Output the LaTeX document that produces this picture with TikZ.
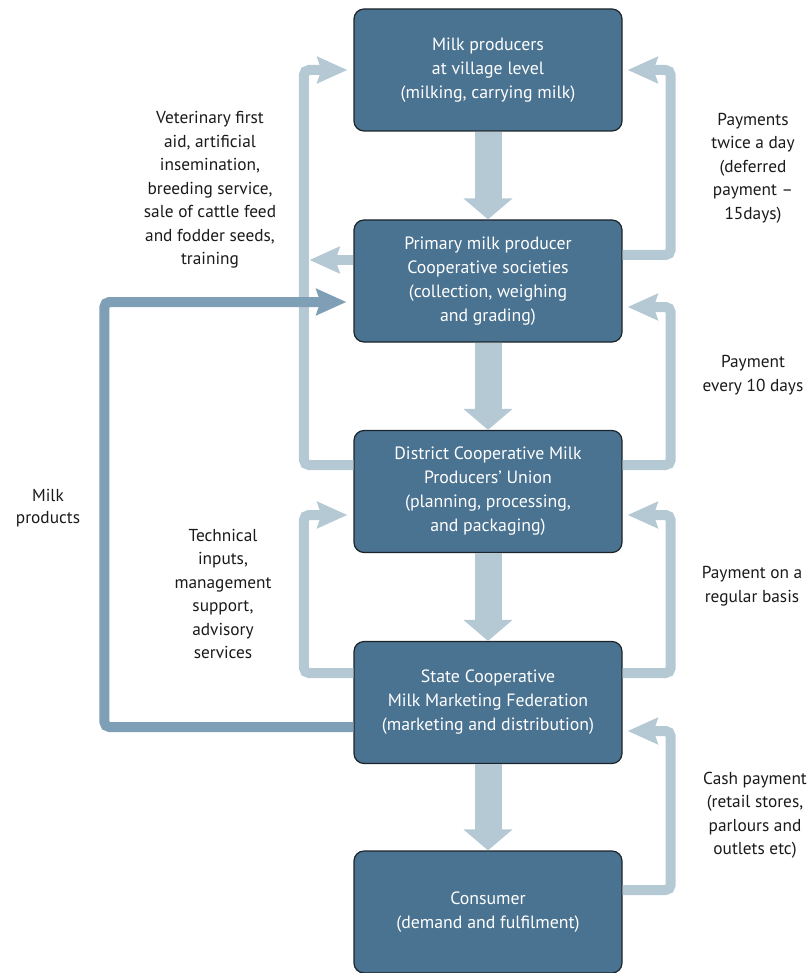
\documentclass[tikz,border=0pt]{standalone}
\usepackage{fontspec}
\setmainfont{PT Sans}
\usetikzlibrary{arrows.meta}

\definecolor{boxfill}{HTML}{4A7291}
\definecolor{boxline}{HTML}{1C242B}
\definecolor{flowlight}{HTML}{B5C9D5}
\definecolor{flowmid}{HTML}{7F9FB6}
\definecolor{labeltext}{HTML}{1A1A1A}

\tikzset{
  stage/.style={draw=boxline, line width=1.2pt, fill=boxfill, rounded corners=10pt,
    minimum width=268pt, minimum height=122pt, inner sep=0pt,
    text=white, align=center, font=\fontsize{17.8}{24}\selectfont},
  note/.style={text=labeltext, align=center, inner sep=0pt,
    font=\fontsize{17.3}{23.5}\selectfont},
  mainflow/.style={draw=flowlight, line width=27pt,
    -{Triangle[width=48pt,length=21pt]}},
  backflow/.style={draw=flowlight, line width=10pt, rounded corners=5pt,
    -{Stealth[width=26pt,length=30pt,inset=4pt]}, shorten >=6pt},
  productflow/.style={draw=flowmid, line width=10pt, rounded corners=5pt,
    -{Stealth[width=26pt,length=30pt,inset=4pt]}, shorten >=7pt}
}

\begin{document}
\begin{tikzpicture}[x=1pt, y=-1pt]
  \useasboundingbox (0,0) rectangle (807,973);

  % chain of stages
  \node[stage] (prod)  at (488,70)    {Milk producers\\at village level\\(milking, carrying milk)};
  \node[stage] (soc)   at (488,281)   {Primary milk producer\\Cooperative societies\\(collection, weighing\\and grading)};
  \node[stage] (union) at (488,491.5) {District Cooperative Milk\\Producers’ Union\\(planning, processing,\\and packaging)};
  \node[stage] (fed)   at (488,702.5) {State Cooperative\\Milk Marketing Federation\\(marketing and distribution)};
  \node[stage] (cons)  at (488,912)   {Consumer\\(demand and fulfilment)};

  % milk moving down the chain
  \draw[mainflow] (prod.south)  -- (soc.north);
  \draw[mainflow] (soc.south)   -- (union.north);
  \draw[mainflow] (union.south) -- (fed.north);
  \draw[mainflow] (fed.south)   -- (cons.north);

  % services on the left rail
  \draw[backflow] ([yshift=26.5pt]union.west) -- ++(-49.5,0) |- (prod.west);
  \draw[backflow, shorten >=0pt] ([yshift=21pt]soc.west) -- ++(-44,0);
  \draw[backflow] ([yshift=29.5pt]fed.west) -- ++(-49.5,0) |- ([yshift=-23.5pt]union.west);

  % payments on the right rail
  \draw[backflow, shorten >=5pt] ([yshift=26pt]soc.east) -- ++(48,0) |- (prod.east);
  \draw[backflow, shorten >=5pt] ([yshift=26.5pt]union.east) -- ++(48,0) |- ([yshift=-26pt]soc.east);
  \draw[backflow, shorten >=5pt] ([yshift=29.5pt]fed.east) -- ++(48,0) |- ([yshift=-23.5pt]union.east);
  \draw[backflow, shorten >=5pt] ([yshift=22pt]cons.east) -- ++(48,0) |- ([yshift=-28.5pt]fed.east);

  % milk products returned to the societies
  \draw[productflow] ([yshift=-24.5pt]fed.west) -- ++(-249,0) |- ([yshift=-21pt]soc.west);

  % labels
  \node[note] (vet)  at (210,190) {Veterinary first\\aid, artificial\\insemination,\\breeding service,\\sale of cattle feed\\and fodder seeds,\\training};
  \node[note] (tech) at (223,594) {Technical\\inputs,\\management\\support,\\advisory\\services};
  \node[note, font=\fontsize{17.3}{22}\selectfont] (milk) at (48,508) {Milk\\products};
  \node[note] (pay1) at (753,168) {Payments\\twice a day\\(deferred\\payment –\\15days)};
  \node[note] (pay2) at (753,375) {Payment\\every 10 days};
  \node[note] (pay3) at (752,586) {Payment on a\\regular basis};
  \node[note] (cash) at (755,815) {Cash payment\\(retail stores,\\parlours and\\outlets etc)};
\end{tikzpicture}
\end{document}
